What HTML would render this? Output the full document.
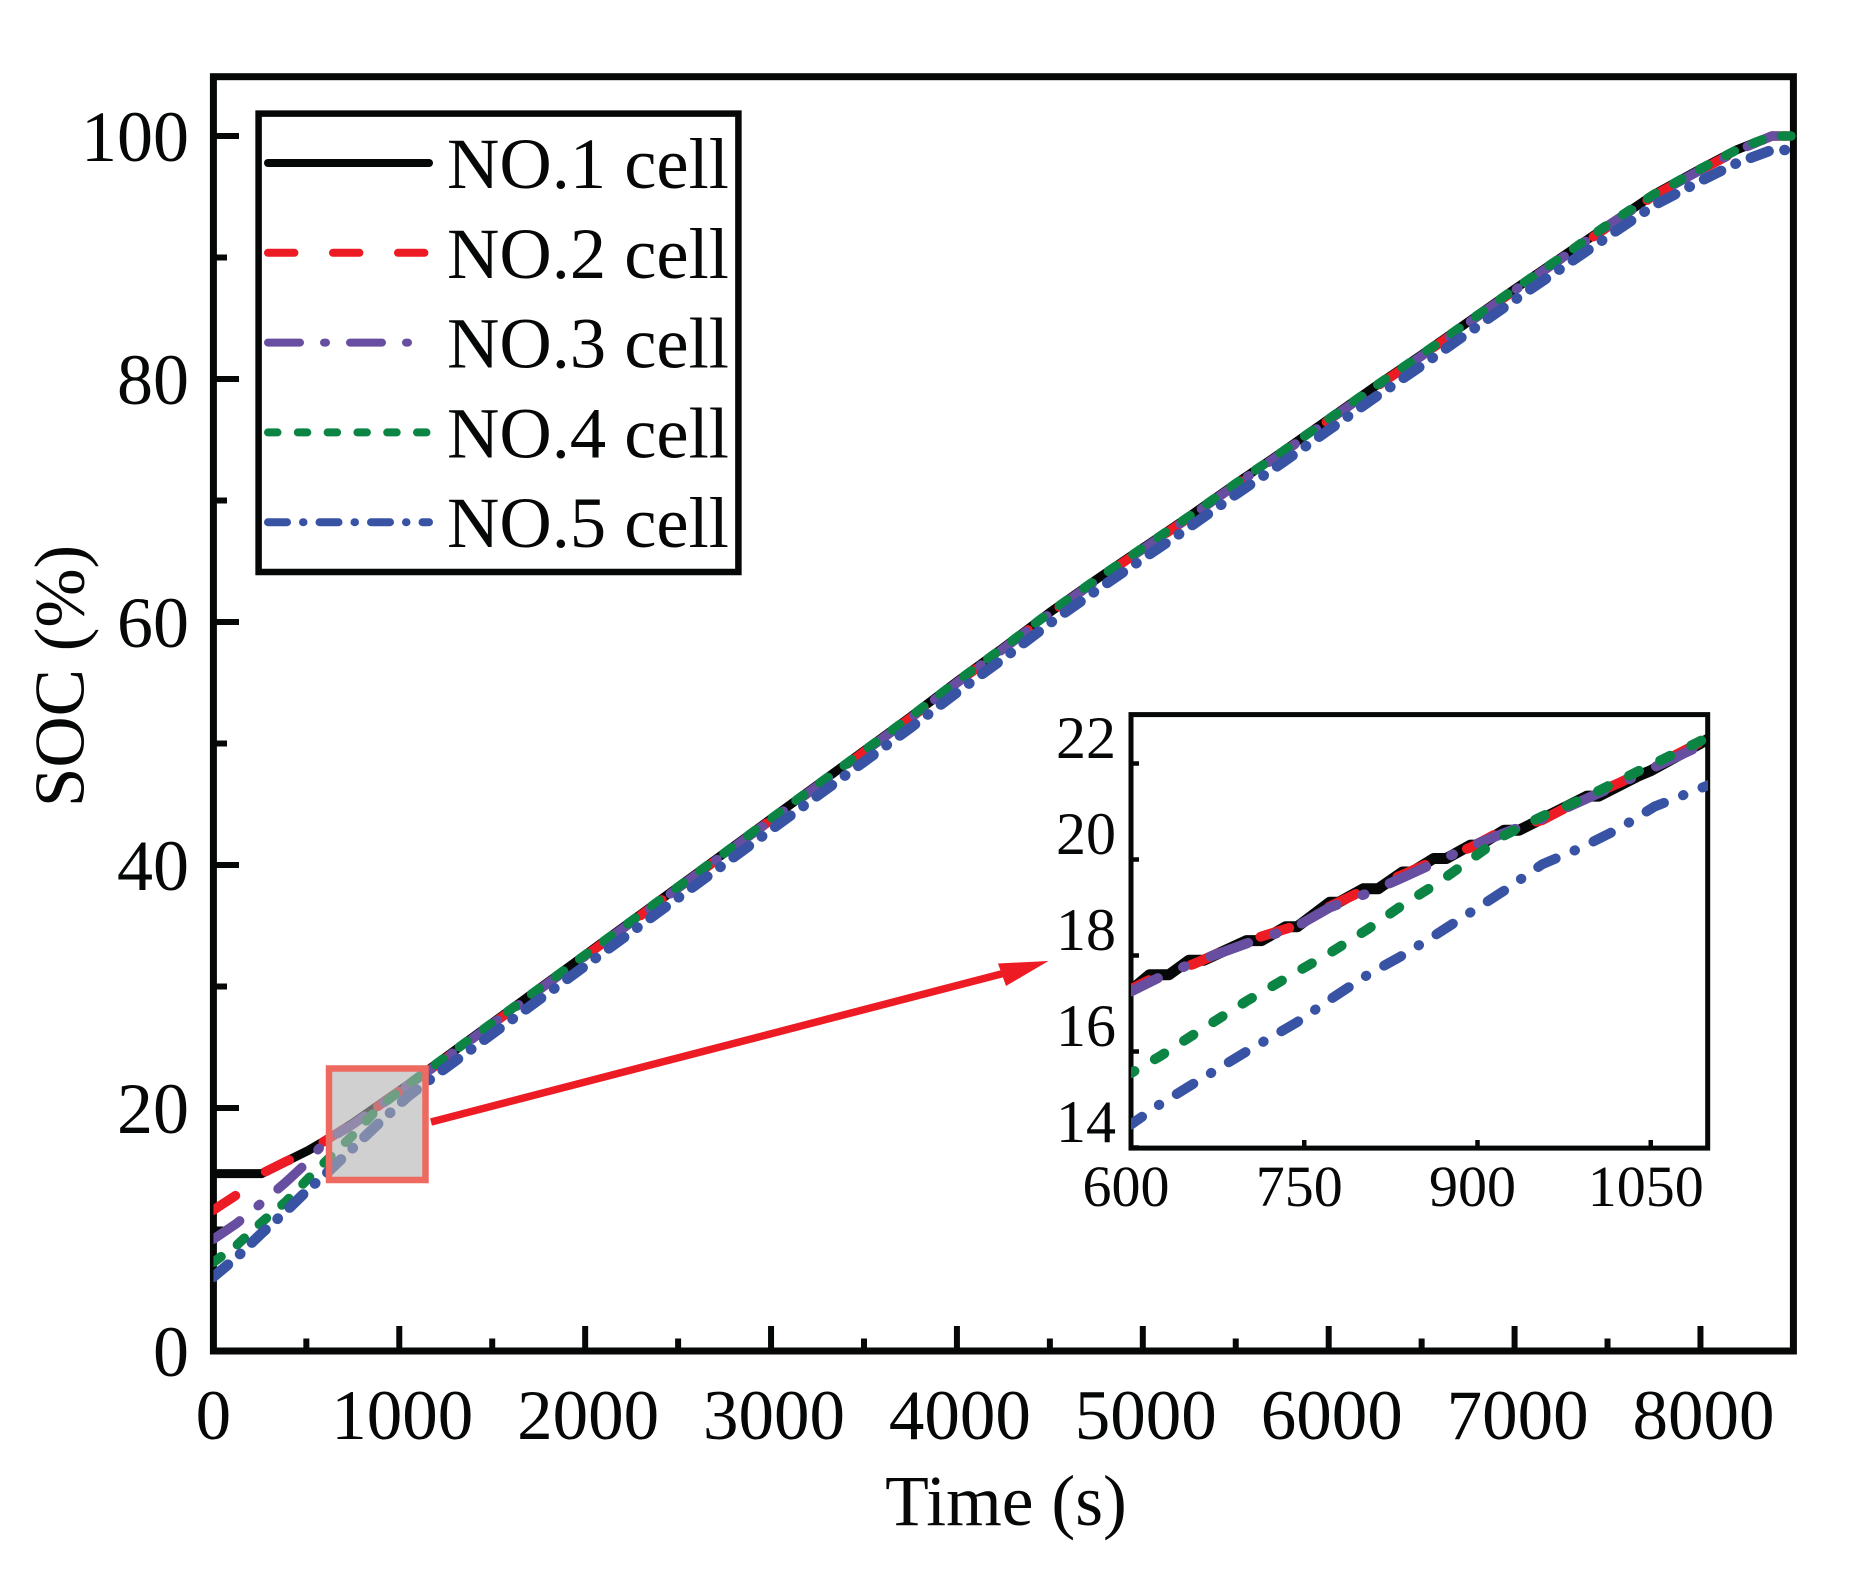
<!DOCTYPE html>
<html lang="en">
<head>
<meta charset="utf-8">
<title>SOC vs Time</title>
<style>
  html, body { margin: 0; padding: 0; background: #fff; }
  svg { display: block; font-family: "Liberation Serif", "Times New Roman", serif; fill: #050806; }
</style>
</head>
<body>
<svg id="chart" xmlns="http://www.w3.org/2000/svg" width="1869" height="1582" viewBox="0 0 1869 1582">
  <defs>
    <clipPath id="main-clip"><rect x="213.4" y="70" width="583" height="1290" transform="translate(0 0)"/></clipPath>
    <clipPath id="main-clip-wide"><rect x="213.4" y="70" width="1583" height="1290"/></clipPath>
    <clipPath id="inset-clip"><rect x="1131" y="714" width="577" height="435"/></clipPath>
  </defs>
  <rect x="0" y="0" width="1869" height="1582" fill="#fff"/>
  <g id="main-axes"></g>
  <g id="main-lines" clip-path="url(#main-clip-wide)"></g>
  <rect id="zoom-region" x="329" y="1068.5" width="96.5" height="111.5" fill="rgba(177,177,177,0.6)" stroke="#ee6a60" stroke-width="6.5"/>
  <g>
    <line x1="431" y1="1122" x2="1005" y2="973" stroke="#ed1c24" stroke-width="7.5"/>
    <polygon points="1048.5,961 998,963.5 1006,986" fill="#ed1c24"/>
  </g>
  <g id="inset-axes"></g>
  <g id="inset-lines" clip-path="url(#inset-clip)"></g>
  <g id="legend"></g>
  <text x="1006" y="1525" font-size="71.5" text-anchor="middle">Time (s)</text>
  <text x="0" y="0" font-size="71" text-anchor="middle" transform="translate(83.5 676) rotate(-90)">SOC (%)</text>
</svg>
<script>
// ---------- chart data ----------
const seriesNames = ["NO.1 cell", "NO.2 cell", "NO.3 cell", "NO.4 cell", "NO.5 cell"];
const seriesKeys = ["no1", "no2", "no3", "no4", "no5"];
const xTickValues = [0, 1000, 2000, 3000, 4000, 5000, 6000, 7000, 8000];
const xMinorTickValues = [500, 1500, 2500, 3500, 4500, 5500, 6500, 7500];
const yTickValues = [0, 20, 40, 60, 80, 100];
const yMinorTickValues = [10, 30, 50, 70, 90];
const insetXTickValues = [600, 750, 900, 1050];
const insetYTickValues = [14, 16, 18, 20, 22];

const timeMain = [0,125,260,390,510,600,750,900,1050,1170,1500,1750,2000,2250,2500,2750,3000,3250,3500,3750,4000,4250,4500,4750,5000,5250,5500,5750,6000,6250,6500,6750,7000,7250,7500,7750,8000,8200,8384,8500];
const no1Main = [14.6,14.6,14.6,15.6,16.5,17.3,18.75,20.35,21.95,23.3,27.0,29.8,32.6,35.4,38.2,41.0,43.8,46.6,49.4,52.2,55.1,57.9,60.8,63.5,66.1,68.7,71.4,74.0,76.7,79.4,82.0,84.7,87.4,90.0,92.6,95.2,97.3,98.9,100,100];
const no2Main = [11.6,12.85,14.6,15.6,16.4,17.3,18.7,20.3,21.9,23.2,26.9,29.7,32.5,35.3,38.1,40.9,43.7,46.5,49.3,52.1,55.0,57.8,60.7,63.4,66.0,68.6,71.3,73.9,76.6,79.3,81.9,84.6,87.3,89.9,92.5,95.1,97.2,98.8,100,100];
const no3Main = [9.2,10.5,12.2,13.9,15.6,17.25,18.65,20.25,21.9,23.2,26.9,29.7,32.5,35.3,38.1,40.9,43.7,46.5,49.3,52.1,55.0,57.8,60.7,63.4,66.0,68.6,71.3,73.9,76.6,79.3,81.9,84.6,87.3,89.9,92.6,95.1,97.2,98.8,100,100];
const no4Main = [7.3,8.7,10.6,12.3,14.2,15.55,17.75,20.2,21.95,23.3,27.0,29.8,32.6,35.4,38.2,41.0,43.8,46.6,49.4,52.2,55.1,57.9,60.8,63.5,66.1,68.7,71.4,74.0,76.7,79.4,82.0,84.7,87.4,90.0,92.7,95.2,97.3,98.9,100,100];
const no5Main = [6.1,7.7,9.7,11.5,13.3,14.5,16.7,18.9,21.0,22.4,26.1,28.9,31.7,34.5,37.3,40.1,42.9,45.7,48.5,51.3,54.2,57.0,59.9,62.6,65.2,67.8,70.5,73.1,75.8,78.5,81.1,83.8,86.5,89.1,91.7,94.3,96.3,97.8,98.85,98.85];

const timeInsetNo1 = [600,616,633,650,663,700,713,734,744,772,780,801,814,835,843,862,873,894,902,923,936,995,1005,1040,1050,1100];
const no1Inset = [17.28,17.6,17.6,17.9,17.9,18.31,18.31,18.6,18.6,19.11,19.11,19.39,19.39,19.74,19.74,20.02,20.02,20.3,20.3,20.61,20.61,21.32,21.32,21.75,21.85,22.51];
const timeInset = [600,625,654,700,743,772,805,835,865,894,923,956,990,1023,1053,1100];
const no2Inset = [17.3,17.6,17.82,18.3,18.62,19.02,19.4,19.68,20.0,20.25,20.62,20.82,21.25,21.6,21.95,22.53];
const no3Inset = [17.25,17.55,17.85,18.25,18.6,19.0,19.3,19.62,19.95,20.28,20.55,20.85,21.22,21.58,21.92,22.45];
const no4Inset = [15.55,15.9,16.35,17.05,17.65,18.05,18.55,19.05,19.5,20.0,20.5,20.9,21.25,21.65,22.0,22.55];
const no5Inset = [14.48,14.9,15.33,16.0,16.6,17.08,17.6,18.0,18.45,18.9,19.35,19.9,20.25,20.65,21.1,21.55];

// ---------- styles ----------
const seriesColors = ["#050806", "#ed1c24", "#674ea0", "#0b8444", "#3853a4"];
const seriesDashes = ["", "26.4 38.6", "32 24 2 24", "9.5 20.3", "19 16 0.5 16"];
const mainWidths = [9, 9.5, 9.5, 9.5, 10.5];
const insetDashes = ["", "30 45", "40 27.5 2 27.5", "11 23.6", "19.5 20.5 0.5 20.5"];
const insetDashOffsets = [0, 10, 10, 7, 6];

// ---------- axis functions ----------
function mainX(v) { return 213.4 + (v / 8500) * 1580; }
function mainY(v) { return 1351 - (v / 100) * 1215; }
function insetX(v) { return 1131 + ((v - 600) / 500) * 577.5; }
function insetY(v) { return 1147.5 - (v - 14) * 48; }

const NS = "http://www.w3.org/2000/svg";
const frameColor = "#050806";

function make(tag, parent, attrs) {
  const el = document.createElementNS(NS, tag);
  for (const k in attrs) el.setAttribute(k, attrs[k]);
  parent.appendChild(el);
  return el;
}

function tickLine(parent, x1, y1, x2, y2, w, name) {
  const t = make("line", parent, { x1: x1, y1: y1, x2: x2, y2: y2, stroke: frameColor, "stroke-width": w });
  
  
  return t;
}

function tickText(parent, x, y, size, anchor, str, name) {
  const t = make("text", parent, { x: x, y: y, "font-size": size, "text-anchor": anchor });
  t.textContent = str;
  
  
  return t;
}

function linePath(xs, ys, fx, fy) {
  return xs.map(function (x, i) { return (i ? "L" : "M") + fx(x).toFixed(1) + " " + fy(ys[i]).toFixed(1); }).join(" ");
}

// ---------- main axes ----------
const mainAxes = document.getElementById("main-axes");
const mainFrame = make("rect", mainAxes, { x: 213.4, y: 76.7, width: 1580, height: 1274.3, fill: "none", stroke: frameColor, "stroke-width": 7 });



xTickValues.forEach(function (v) {
  tickLine(mainAxes, mainX(v), 1351, mainX(v), 1326, 6, "x-major-tick");
  tickText(mainAxes, mainX(v) + (v === 0 ? 0 : 3), 1439, 71, "middle", String(v), "x-tick-label");
});
xMinorTickValues.forEach(function (v) {
  tickLine(mainAxes, mainX(v), 1351, mainX(v), 1338.5, 6, "x-minor-tick");
});
yTickValues.forEach(function (v) {
  tickLine(mainAxes, 213.4, mainY(v), 239, mainY(v), 6, "y-major-tick");
  tickText(mainAxes, 189, mainY(v) + 25, 72, "end", String(v), "y-tick-label");
});
yMinorTickValues.forEach(function (v) {
  tickLine(mainAxes, 213.4, mainY(v), 227, mainY(v), 6, "y-minor-tick");
});

// ---------- main series ----------
const mainSeries = [no1Main, no2Main, no3Main, no4Main, no5Main];
const mainLines = document.getElementById("main-lines");
mainSeries.forEach(function (vals, i) {
  const p = make("path", mainLines, {
    d: linePath(timeMain, vals, mainX, mainY),
    fill: "none",
    stroke: seriesColors[i],
    "stroke-width": mainWidths[i],
    "stroke-linecap": i === 0 ? "butt" : "round",
    "stroke-linejoin": "round",
    "stroke-dasharray": seriesDashes[i]
  });
  
  
});

// ---------- inset axes ----------
const insetAxes = document.getElementById("inset-axes");
const insetFrame = make("rect", insetAxes, { x: 1131, y: 714.6, width: 576.7, height: 433.5, fill: "#fff", stroke: frameColor, "stroke-width": 5 });



insetXTickValues.forEach(function (v) {
  tickLine(insetAxes, insetX(v), 1148, insetX(v), 1140, 4.5, "inset-x-tick");
  tickText(insetAxes, insetX(v) - 5, 1206, 58, "middle", String(v), "inset-x-tick-label");
});
insetYTickValues.forEach(function (v) {
  tickLine(insetAxes, 1131, insetY(v), 1139, insetY(v), 4.5, "inset-y-tick");
  tickText(insetAxes, 1116, insetY(v) - 5.5, 60, "end", String(v), "inset-y-tick-label");
});

// ---------- inset series ----------
const insetSeries = [no1Inset, no2Inset, no3Inset, no4Inset, no5Inset];
const insetLines = document.getElementById("inset-lines");
insetSeries.forEach(function (vals, i) {
  const p = make("path", insetLines, {
    d: linePath(i === 0 ? timeInsetNo1 : timeInset, vals, insetX, insetY),
    fill: "none",
    stroke: seriesColors[i],
    "stroke-width": i === 0 ? 11 : 10,
    "stroke-linecap": i === 0 ? "butt" : "round",
    "stroke-linejoin": "round",
    "stroke-dasharray": insetDashes[i],
    "stroke-dashoffset": insetDashOffsets[i]
  });
  
  
});

// ---------- legend ----------
const legend = document.getElementById("legend");
const legendBox = make("rect", legend, { x: 258.6, y: 113.6, width: 479.8, height: 458.4, fill: "#fff", stroke: frameColor, "stroke-width": 6.5 });


seriesNames.forEach(function (name, i) {
  const ly = 163 + i * 89.8;
  const s = make("line", legend, {
    x1: 268, y1: ly, x2: 429, y2: ly,
    stroke: seriesColors[i], "stroke-width": 8, "stroke-linecap": "round",
    "stroke-dasharray": seriesDashes[i]
  });
  
  
  tickText(legend, 447, ly + 25, 72.5, "start", name, "legend-label");
});
</script>
</body>
</html>
